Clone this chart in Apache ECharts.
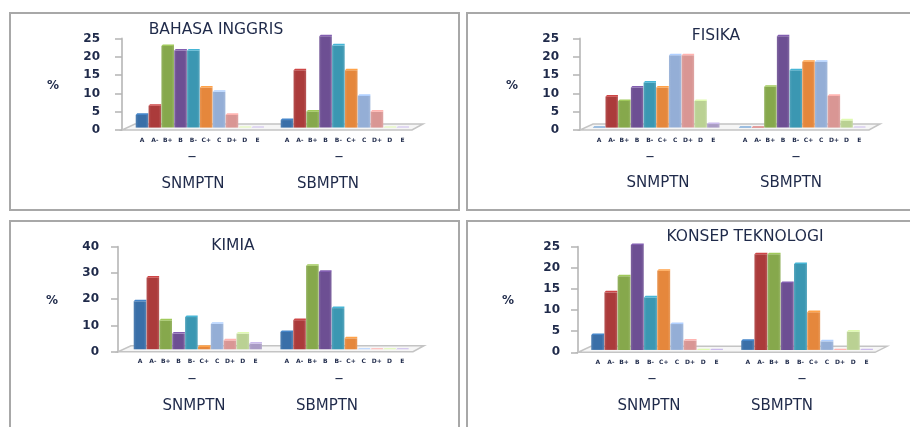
<!DOCTYPE html>
<html>
<head>
<meta charset="utf-8">
<style>
  html, body { margin: 0; padding: 0; background: #fff; }
  #my-chart { width: 910px; height: 427px; filter: blur(0.6px); }
</style>
</head>
<body>
<div id="my-chart"></div>
<script src="https://cdn.jsdelivr.net/npm/echarts@6/dist/echarts.min.js"></script>
<script>
// nilai
const grades = ['A', 'A-', 'B+', 'B', 'B-', 'C+', 'C', 'D+', 'D', 'E']
const barColors = ['#3a6fa8', '#ab3b3b', '#86a84c', '#6d4f93', '#3b97b2', '#e5873c', '#94aed6', '#d99694', '#bad193', '#a99bc4']

const inggrisSn = [3.9, 6.4, 22.7, 21.5, 21.5, 11.4, 10.2, 3.9, 0.3, 0.3]
const inggrisSb = [2.5, 16.1, 4.8, 25.4, 22.9, 16.1, 9.1, 4.8, 0.3, 0.3]
const fisikaSn = [0.3, 8.9, 7.7, 11.4, 12.7, 11.4, 20.2, 20.2, 7.7, 1.4]
const fisikaSb = [0.3, 0.3, 11.6, 25.4, 16.1, 18.4, 18.4, 9.1, 2.4, 0.3]
const kimiaSn = [18.9, 27.9, 11.6, 6.6, 12.9, 1.5, 10.3, 4, 6.6, 2.8]
const kimiaSb = [7.2, 11.7, 32.4, 30.1, 16.3, 4.8, 0.4, 0.4, 0.4, 0.4]
const konsepSn = [3.9, 14, 17.8, 25.2, 12.8, 19.1, 6.5, 2.6, 0.3, 0.3]
const konsepSb = [2.5, 23, 23, 16.2, 20.7, 9.3, 2.4, 0.3, 4.7, 0.3]

// posisi tiap panel
const panels = [
  { title: 'BAHASA INGGRIS', titleX: 216, titleY: 29, sn: inggrisSn, sb: inggrisSb, max: 25, step: 5,
    frame: [10, 13, 449, 197], axisX: 122, top: 38.5, bottom: 130, snX: 142, sbX: 287, slot: 12.85,
    floorEnd: 412, floorBack: 423, percentX: 53, percentY: 85, labelGap: 22,
    snLabel: 193, sbLabel: 328, snDash: 192, sbDash: 339, dashY: 157, groupY: 183 },
  { title: 'FISIKA', titleX: 716, titleY: 35, sn: fisikaSn, sb: fisikaSb, max: 25, step: 5,
    frame: [467, 13, 460, 197], axisX: 580, top: 38.5, bottom: 130, snX: 599, sbX: 745, slot: 12.7,
    floorEnd: 869, floorBack: 880, percentX: 512, percentY: 85, labelGap: 21,
    snLabel: 658, sbLabel: 791, snDash: 650, sbDash: 796, dashY: 157, groupY: 182 },
  { title: 'KIMIA', titleX: 233, titleY: 245, sn: kimiaSn, sb: kimiaSb, max: 40, step: 10,
    frame: [10, 221, 449, 230], axisX: 118, top: 246.7, bottom: 351.7, snX: 140, sbX: 286.7, slot: 12.85,
    floorEnd: 413, floorBack: 424, percentX: 52, percentY: 300, labelGap: 19,
    snLabel: 194, sbLabel: 327, snDash: 192, sbDash: 339, dashY: 379, groupY: 405 },
  { title: 'KONSEP TEKNOLOGI', titleX: 745, titleY: 236, sn: konsepSn, sb: konsepSb, max: 25, step: 5,
    frame: [467, 221, 460, 230], axisX: 578, top: 246.7, bottom: 352.3, snX: 597.7, sbX: 747.7, slot: 13.2,
    floorEnd: 875, floorBack: 887, percentX: 508, percentY: 300, labelGap: 18,
    snLabel: 649, sbLabel: 782, snDash: 652, sbDash: 802, dashY: 379, groupY: 405 }
]

const textColor = '#1f2a4a'
const depth = 6 // kedalaman lantai 3D
const lift = 2.4 // batang berdiri sedikit di atas garis sumbu

// batang semu 3D, posisi tetap dari skala sumbu
function renderBar (params, api) {
  const idx = api.value(0)
  const topPt = api.coord([idx, api.value(1)])
  const basePt = api.coord([idx, 0])
  const w = api.size([1, 0])[0] * 0.98
  const x = topPt[0] - w / 2
  const top = topPt[1] - lift
  const base = basePt[1] - lift
  const cap = Math.min(1.6, base - top)
  const color = barColors[idx]
  return {
    type: 'group',
    children: [
      {
        type: 'rect',
        shape: { x: x, y: top + cap, width: w, height: Math.max(base - top - cap, 0) },
        style: {
          fill: new echarts.graphic.LinearGradient(0, 0, 1, 0, [
            { offset: 0, color: echarts.color.lift(color, 0.12) },
            { offset: 0.2, color: color },
            { offset: 0.8, color: color },
            { offset: 1, color: echarts.color.lift(color, 0.15) }
          ])
        }
      },
      {
        type: 'polygon',
        shape: { points: [[x, top + cap], [x + 1.5, top], [x + w, top], [x + w, top + cap]] },
        style: { fill: echarts.color.lift(color, -0.2) }
      }
    ]
  }
}

const option = { animation: false, backgroundColor: '#fff', title: [], grid: [], xAxis: [], yAxis: [], series: [], graphic: [] }

function addText (text, x, y, size, weight) {
  option.title.push({
    text: text,
    left: x,
    top: y - size * 0.45,
    textAlign: 'center',
    padding: 0,
    textStyle: { color: textColor, fontFamily: 'DejaVu Sans', fontSize: size, fontWeight: weight }
  })
}

panels.forEach(function (p) {
  option.graphic.push({
    type: 'rect',
    shape: { x: p.frame[0], y: p.frame[1], width: p.frame[2], height: p.frame[3] },
    style: { fill: '#fff', stroke: '#a8a8a8', lineWidth: 2 }
  })
  // lantai
  option.graphic.push({
    type: 'polygon',
    shape: {
      points: [
        [p.axisX, p.bottom],
        [p.floorEnd, p.bottom],
        [p.floorBack, p.bottom - depth],
        [p.axisX + 13, p.bottom - depth]
      ]
    },
    style: { fill: '#f6f6f6', stroke: '#c4c4c4', lineWidth: 1.5 }
  })

  addText(p.title, p.titleX, p.titleY, 15.5, 'normal')
  addText('%', p.percentX, p.percentY, 12, 'bold')
  addText('SNMPTN', p.snLabel, p.groupY, 15, 'normal')
  addText('SBMPTN', p.sbLabel, p.groupY, 15, 'normal')
  addText('—', p.snDash, p.dashY, 8, 'bold')
  addText('—', p.sbDash, p.dashY, 8, 'bold')

  const groups = [
    { values: p.sn, first: p.snX, main: true },
    { values: p.sb, first: p.sbX, main: false }
  ]
  groups.forEach(function (g) {
    const i = option.grid.length
    const gridLeft = g.first - p.slot / 2
    option.grid.push({
      left: gridLeft,
      top: p.top,
      width: p.slot * 10,
      height: p.bottom - p.top
    })
    option.xAxis.push({
      type: 'category',
      gridIndex: i,
      data: grades,
      axisLine: { show: false },
      axisTick: { show: false },
      axisLabel: {
        interval: 0,
        margin: 7,
        color: textColor,
        fontFamily: 'DejaVu Sans',
        fontSize: 6,
        fontWeight: 'bold'
      }
    })
    option.yAxis.push({
      type: 'value',
      gridIndex: i,
      show: g.main,
      min: 0,
      max: p.max,
      interval: p.step,
      offset: gridLeft - p.axisX,
      splitLine: { show: false },
      axisLine: { show: true, lineStyle: { color: '#c4c4c4', width: 2 } },
      axisTick: { show: true, length: 7, lineStyle: { color: '#b4b4b4', width: 1.5 } },
      axisLabel: {
        margin: p.labelGap,
        color: textColor,
        fontFamily: 'DejaVu Sans',
        fontSize: 12,
        fontWeight: 'bold'
      }
    })
    option.series.push({
      type: 'custom',
      xAxisIndex: i,
      yAxisIndex: i,
      clip: false,
      renderItem: renderBar,
      encode: { x: 0, y: 1 },
      data: g.values.map(function (v, n) { return [n, v] })
    })
  })
})

const myChart = echarts.init(document.getElementById('my-chart'), null, { renderer: 'canvas' })
myChart.setOption(option)
</script>
</body>
</html>
